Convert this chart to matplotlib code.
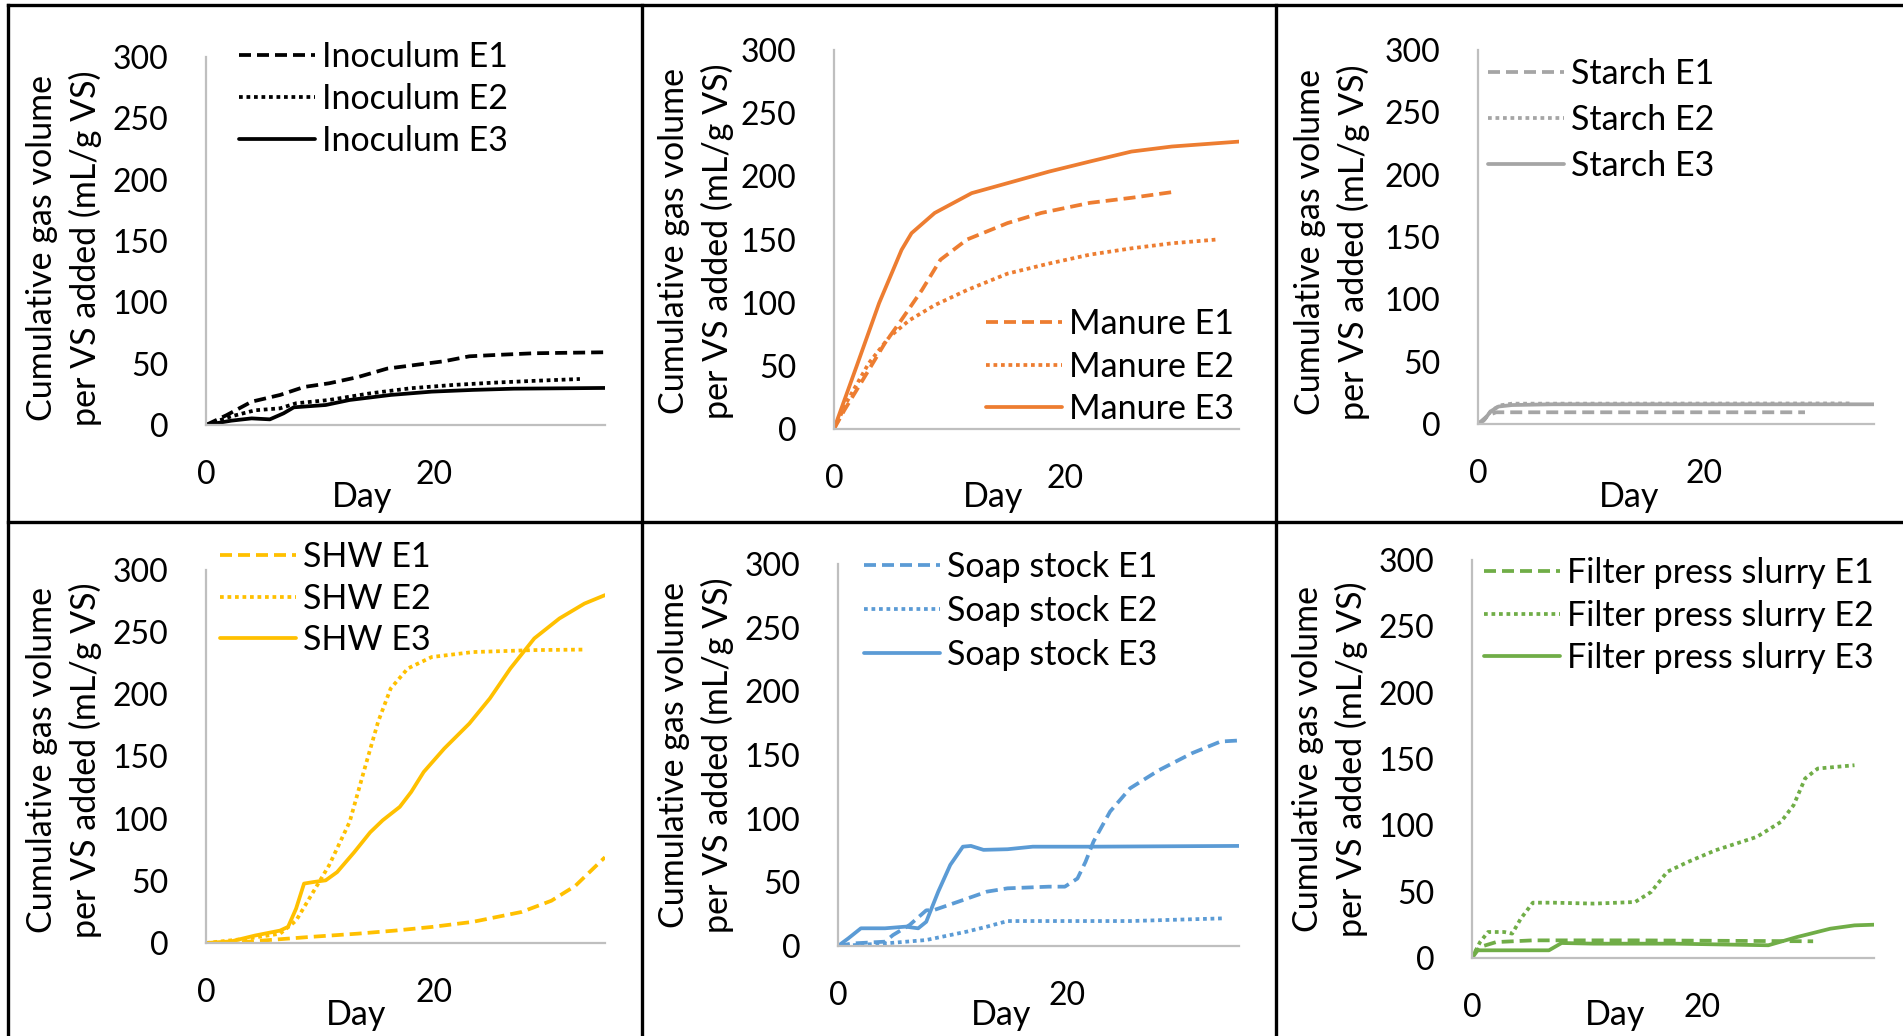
import matplotlib
matplotlib.use("Agg")
import matplotlib.pyplot as plt
from matplotlib.lines import Line2D

# figure size in pixels (dpi 100)
W, H = 1903, 1036

# ---- data (day, cumulative gas volume mL/g VS) ----
inoc_e1_day = [0, 1.8, 4, 6.5, 8.6, 10.8, 13.3, 15.9, 18.4, 20.9, 23.1, 25.2, 28.8, 35]
inoc_e1_val = [0, 8, 19, 24.5, 31, 34, 39, 46, 49, 52, 56, 57, 58.5, 59.3]
inoc_e2_day = [0, 2.2, 4.3, 6.5, 7.9, 10.8, 14.4, 18, 21.6, 25.2, 28.8, 32.8]
inoc_e2_val = [0, 7, 12, 13.6, 17.7, 20.4, 25.8, 30, 32.6, 34.5, 36, 37.5]
inoc_e3_day = [0, 2.2, 4, 5.6, 6.8, 7.7, 10.5, 12.6, 16.2, 19.8, 23.4, 27, 35]
inoc_e3_val = [0, 3.5, 5.4, 4.6, 9.5, 14.4, 16.3, 20.4, 24.5, 27.2, 28.6, 29.6, 30.2]

manure_e1_day = [0, 0.9, 2.3, 4.4, 5.8, 7.6, 9.2, 11.5, 15, 17.9, 22.1, 25.7, 29.6]
manure_e1_val = [0, 15, 36, 68, 86, 110, 134, 150, 163, 171, 179, 183, 188]
manure_e2_day = [0, 1.2, 3, 4.8, 6.5, 8.7, 11.5, 15, 18.6, 22.1, 25.7, 29.2, 33.1]
manure_e2_val = [0, 23, 52, 73, 86, 98, 110, 123, 131, 138, 143, 147, 150]
manure_e3_day = [0, 1.95, 3.9, 5.84, 6.7, 8.7, 11.9, 15, 18.6, 22.1, 25.7, 29.2, 35]
manure_e3_val = [0, 49.6, 99.7, 141.8, 155, 171, 186.7, 194.6, 203.8, 211.7, 219.6, 223.6, 227.5]

starch_e1_day = [0, 0.9, 1.6, 28.9]
starch_e1_val = [0, 7, 9.4, 9.4]
starch_e2_day = [0, 0.6, 1.2, 2, 3, 33]
starch_e2_val = [0, 4, 11, 15, 16.3, 16.5]
starch_e3_day = [0, 0.5, 1.1, 1.8, 3, 6.6, 35]
starch_e3_val = [0, 2.7, 10, 14, 15.2, 15.8, 15.8]

shw_e1_day = [0, 2.2, 5, 9, 13.3, 16.6, 19.8, 23.4, 27.7, 30.3, 32.4, 35]
shw_e1_val = [0, 0, 2, 4.8, 7.5, 10, 12.9, 17, 25, 34, 46, 69]
shw_e2_day = [0, 3.6, 6.5, 7.9, 9.4, 10.8, 12.6, 14, 15.1, 16.2, 17.7, 19.8, 23.4, 28.8, 33.2]
shw_e2_val = [0, 3.5, 7.5, 18, 41, 62.5, 97.4, 143, 178, 204.7, 220.8, 230, 234, 235.6, 236]
shw_e3_day = [0, 2.2, 4.3, 6.5, 7.2, 7.9, 8.6, 9.4, 10.5, 11.5, 13, 14.4, 15.5, 17, 18,
              19.1, 20.9, 23.1, 24.9, 26.7, 28.8, 31, 33.2, 35]
shw_e3_val = [0, 1.3, 6, 10, 13, 27.6, 47.8, 49, 50.4, 57, 73, 89, 98.7, 109.5, 121.5,
              137.6, 156.4, 176.5, 196.7, 220.8, 245, 261, 273, 279.8]

soap_e1_day = [0, 1.25, 4.1, 4.8, 6.25, 7.7, 8.4, 10.5, 13, 14.8, 18.4, 19.8, 20.9, 21.6,
               22.3, 23.75, 25.5, 28, 30.9, 33.4, 35]
soap_e1_val = [0, 2, 3.4, 8.6, 16.5, 28, 28.3, 34.8, 42.7, 45.3, 46.6, 46.6, 53, 66,
               82, 105.6, 123.9, 138, 151.4, 160.6, 161.4]
soap_e2_day = [0, 4.1, 7.7, 11.25, 13, 14.8, 18.4, 25.5, 33.6]
soap_e2_val = [0, 2, 4.7, 11.3, 15.2, 19.6, 19.6, 19.6, 21.7]
soap_e3_day = [0, 0.9, 2, 4.1, 5.9, 7, 7.7, 8.75, 9.8, 10.9, 11.6, 12.7, 14.8, 17, 22, 35]
soap_e3_val = [0, 6, 13.9, 13.9, 15.2, 13.9, 19, 42.7, 63.7, 78, 78.6, 75.5, 76, 78, 78, 78.6]

fps_e1_day = [0, 0.7, 2.1, 5.3, 14.2, 29.7]
fps_e1_val = [0, 8.3, 12, 13.3, 13.3, 12.6]
fps_e2_day = [0, 0.7, 1.4, 2.8, 3.5, 4.25, 5.3, 7.1, 10.6, 14.2, 15.6, 17, 18.8, 21.2,
              24.8, 26.9, 28, 29, 30.1, 33.3]
fps_e2_val = [0, 12, 19.6, 19.6, 18.4, 29.7, 41.7, 41.7, 41, 42.2, 49.8, 65, 72.4, 81.2,
              91.3, 102.6, 115.2, 135.3, 142.8, 145.3]
fps_e3_day = [0, 0.35, 3.5, 6.7, 7.8, 10.6, 17.7, 25.8, 28.3, 31.2, 33.3, 35]
fps_e3_val = [0, 5.8, 5.8, 5.8, 11.3, 10.8, 10.8, 9.6, 15.8, 22.1, 24.6, 25.1]

y_ticks = [0, 50, 100, 150, 200, 250, 300]
x_ticks = [0, 20]
y_label = "Cumulative gas volume\nper VS added (mL/g VS)"

FONT = "Lato"
FS_TICK = 23
FS_TEXT = 24.5
FS_PX = FS_TEXT * 100 / 72
plt.rcParams["font.family"] = [FONT, "DejaVu Sans"]

# each panel: name, colour, series, axes box in px (x0, x1, y_top, y_zero),
# legend (line start x, first row y, row spacing), y-label centre, "Day" centre
panels = [
    ("Inoculum", "black",
     [(inoc_e1_day, inoc_e1_val), (inoc_e2_day, inoc_e2_val), (inoc_e3_day, inoc_e3_val)],
     (206, 605, 57, 425), (239, 57, 42), (64, 248), (362, 497)),
    ("Manure", "#ED7D31",
     [(manure_e1_day, manure_e1_val), (manure_e2_day, manure_e2_val), (manure_e3_day, manure_e3_val)],
     (834, 1239, 50, 429), (986, 324, 42.5), (696, 241), (993, 497)),
    ("Starch", "#A5A5A5",
     [(starch_e1_day, starch_e1_val), (starch_e2_day, starch_e2_val), (starch_e3_day, starch_e3_val)],
     (1478, 1874, 50, 424), (1488, 74, 46), (1332, 242), (1629, 497)),
    ("SHW", "#FFC000",
     [(shw_e1_day, shw_e1_val), (shw_e2_day, shw_e2_val), (shw_e3_day, shw_e3_val)],
     (206, 605, 570, 943), (220, 557, 41.5), (64, 760), (356, 1015)),
    ("Soap stock", "#5B9BD5",
     [(soap_e1_day, soap_e1_val), (soap_e2_day, soap_e2_val), (soap_e3_day, soap_e3_val)],
     (838, 1239, 564, 946), (864, 567, 44), (696, 755), (1001, 1015)),
    ("Filter press slurry", "#70AD47",
     [(fps_e1_day, fps_e1_val), (fps_e2_day, fps_e2_val), (fps_e3_day, fps_e3_val)],
     (1472, 1874, 560, 958), (1484, 573, 42.5), (1330, 759), (1615, 1015)),
]

styles = [(0, (3.2, 1.6)), (0, (1, 1)), "-"]

fig = plt.figure(figsize=(W / 100, H / 100), dpi=100)

for name, color, series, box, leg, ylab, daypos in panels:
    x0, x1, ytop, yzero = box
    ax = fig.add_axes([x0 / W, 1 - yzero / H, (x1 - x0) / W, (yzero - ytop) / H])
    for (d, v), ls, tag in zip(series, styles, ["E1", "E2", "E3"]):
        ax.plot(d, v, color=color, lw=2.7, linestyle=ls, label=name + " " + tag,
                solid_capstyle="round", solid_joinstyle="round")
    ax.set_xlim(0, 35)
    ax.set_ylim(0, 300)
    ax.set_xticks(x_ticks)
    ax.set_yticks(y_ticks)
    ax.tick_params(axis="y", length=0, pad=27, labelsize=FS_TICK)
    ax.tick_params(axis="x", length=0, pad=25, labelsize=FS_TICK)
    for s in ["top", "right"]:
        ax.spines[s].set_visible(False)
    for s in ["left", "bottom"]:
        ax.spines[s].set_color("#BFBFBF")
        ax.spines[s].set_linewidth(1.6)
    ax.patch.set_alpha(0)

    lx, ly, lsp = leg
    fig.legend(handles=ax.get_lines(), loc="upper left",
               bbox_to_anchor=(lx / W, 1 - (ly - 0.47 * FS_PX) / H),
               frameon=False, fontsize=FS_TEXT, handlelength=76 / FS_PX,
               handletextpad=0.22, borderpad=0, borderaxespad=0,
               labelspacing=(lsp - 0.94 * FS_PX) / FS_PX)

    fig.text(ylab[0] / W, 1 - ylab[1] / H, y_label, rotation=90, ha="center", va="center",
             multialignment="center", fontsize=FS_TEXT, linespacing=1.4)
    fig.text(daypos[0] / W, 1 - daypos[1] / H, "Day", ha="center", va="center",
             fontsize=FS_TEXT)

# black frame lines between panels
frame = [((8, 1903), (5, 5)), ((8, 8), (5, 1036)), ((8, 1903), (522, 522)),
         ((642, 642), (5, 1036)), ((1276, 1276), (5, 1036))]
for xs, ys in frame:
    fig.add_artist(Line2D([x / W for x in xs], [1 - y / H for y in ys],
                          color="black", lw=2.4, transform=fig.transFigure))

fig.savefig("out.png", dpi=100)
